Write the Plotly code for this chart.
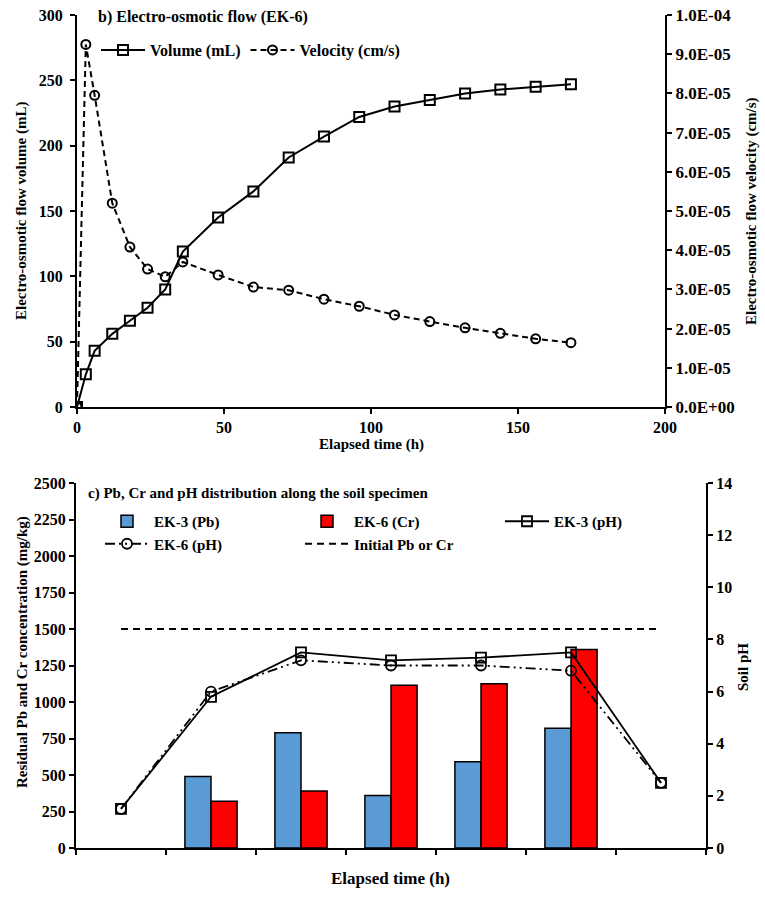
import plotly.graph_objects as go

# ---------------- data: panel b (EK-6 electro-osmotic flow) ----------------
time_h = [0, 3, 6, 12, 18, 24, 30, 36, 48, 60, 72, 84, 96, 108, 120, 132, 144, 156, 168]
volume_ml = [0, 25, 43, 56, 66, 76, 90, 119, 145, 165, 191, 207, 222, 230, 235, 240, 243, 245, 247]
velocity_cms = [0, 9.25e-5, 7.95e-5, 5.2e-5, 4.08e-5, 3.52e-5, 3.32e-5, 3.7e-5, 3.37e-5,
                3.06e-5, 2.98e-5, 2.75e-5, 2.57e-5, 2.35e-5, 2.18e-5, 2.02e-5, 1.88e-5,
                1.74e-5, 1.64e-5]
vel_tickvals = [0, 1e-5, 2e-5, 3e-5, 4e-5, 5e-5, 6e-5, 7e-5, 8e-5, 9e-5, 1e-4]
vel_ticktext = ["0.0E+00", "1.0E-05", "2.0E-05", "3.0E-05", "4.0E-05", "5.0E-05",
                "6.0E-05", "7.0E-05", "8.0E-05", "9.0E-05", "1.0E-04"]

# ---------------- data: panel c (Pb, Cr, pH along specimen) ----------------
sections = [1, 2, 3, 4, 5, 6, 7]
bar_sections = [2, 3, 4, 5, 6]
pb_ek3 = [490, 790, 360, 590, 820]
cr_ek6 = [320, 390, 1115, 1125, 1360]
ph_ek3 = [1.5, 5.8, 7.5, 7.2, 7.3, 7.5, 2.5]
ph_ek6 = [1.5, 6.0, 7.2, 7.0, 7.0, 6.8, 2.5]
initial_conc = [1500, 1500, 1500, 1500, 1500, 1500, 1500]
section_bounds = [0.5, 1.5, 2.5, 3.5, 4.5, 5.5, 6.5, 7.5]

W, H = 765, 903
FONT = "Liberation Serif"


def px(x):
    return x / W


def py(y):
    return 1 - y / H


fig = go.Figure()

# panel b
fig.add_trace(go.Scatter(
    x=time_h, y=volume_ml, name="Volume (mL)", mode="lines+markers",
    line=dict(color="black", width=2),
    marker=dict(symbol="square-open", size=10, color="black", line=dict(width=2)),
    xaxis="x", yaxis="y", legend="legend"))
fig.add_trace(go.Scatter(
    x=time_h, y=velocity_cms, name="Velocity (cm/s)", mode="lines+markers",
    line=dict(color="black", width=2, dash="6px,4px"),
    marker=dict(symbol="circle-open", size=9, color="black", line=dict(width=2)),
    xaxis="x", yaxis="y2", legend="legend"))

# panel c
fig.add_trace(go.Bar(
    x=bar_sections, y=pb_ek3, name="EK-3 (Pb)",
    marker=dict(color="#5B9BD5", line=dict(color="black", width=1.5)),
    xaxis="x2", yaxis="y3", offsetgroup="a", legend="legend2"))
fig.add_trace(go.Bar(
    x=bar_sections, y=cr_ek6, name="EK-6 (Cr)",
    marker=dict(color="#FF0000", line=dict(color="black", width=1.5)),
    xaxis="x2", yaxis="y3", offsetgroup="b", legend="legend2"))
fig.add_trace(go.Scatter(
    x=sections, y=ph_ek3, name="EK-3 (pH)", mode="lines+markers",
    line=dict(color="black", width=1.8),
    marker=dict(symbol="square-open", size=10, color="black", line=dict(width=1.8)),
    xaxis="x2", yaxis="y4", legend="legend2"))
fig.add_trace(go.Scatter(
    x=sections, y=ph_ek6, name="EK-6 (pH)", mode="lines+markers",
    line=dict(color="black", width=1.8, dash="10px,4px,2px,4px,2px,4px"),
    marker=dict(symbol="circle-open", size=10, color="black", line=dict(width=1.8)),
    xaxis="x2", yaxis="y4", legend="legend2"))
fig.add_trace(go.Scatter(
    x=sections, y=initial_conc, name="Initial Pb or Cr", mode="lines",
    line=dict(color="black", width=2, dash="7px,5px"),
    xaxis="x2", yaxis="y3", legend="legend2"))

axis_common = dict(showgrid=False, zeroline=False, showline=True, linecolor="black",
                   linewidth=2, ticks="outside", ticklen=5, tickwidth=2, tickcolor="black",
                   automargin=False)

fig.update_layout(
    width=W, height=H,
    margin=dict(l=0, r=0, t=0, b=0),
    template="none",
    paper_bgcolor="white", plot_bgcolor="rgba(0,0,0,0)",
    font=dict(family=FONT, size=15, color="black", weight="bold"),
    barmode="group", bargap=0.42, bargroupgap=0,
    xaxis=dict(domain=[px(77), px(665)], anchor="y", range=[0, 200], dtick=50,
               tickfont=dict(size=16), **axis_common),
    yaxis=dict(domain=[py(407), py(15)], anchor="x", range=[0, 300], dtick=50,
               tickfont=dict(size=16), ticklabelstandoff=4, **axis_common),
    yaxis2=dict(overlaying="y", anchor="x", side="right", range=[0, 1e-4],
                tickvals=vel_tickvals, ticktext=vel_ticktext,
                tickfont=dict(size=17), **axis_common),
    xaxis2=dict(domain=[px(76), px(706)], anchor="y3", range=[0.5, 7.5],
                tickvals=section_bounds, showticklabels=False, **axis_common),
    yaxis3=dict(domain=[py(848), py(483)], anchor="x2", range=[0, 2500], dtick=250,
                tickfont=dict(size=16), **axis_common),
    yaxis4=dict(overlaying="y3", anchor="x2", side="right", range=[0, 14], dtick=2,
                tickfont=dict(size=16), **axis_common),
    legend=dict(orientation="h", x=px(96), y=py(33), xanchor="left", yanchor="top",
                bgcolor="rgba(0,0,0,0)", font=dict(size=16), itemwidth=44,
                tracegroupgap=0),
    legend2=dict(orientation="h", x=px(100), y=py(505), xanchor="left", yanchor="top",
                 bgcolor="rgba(0,0,0,0)", font=dict(size=15), itemwidth=44,
                 entrywidth=141, traceorder="normal"),
    showlegend=True,
)

annotations = [
    dict(text="b) Electro-osmotic flow (EK-6)", x=px(96), y=py(17), xanchor="left",
         yanchor="middle", font=dict(size=16)),
    dict(text="Electro-osmotic flow volume (mL)", x=px(22), y=py(211), textangle=-90,
         xanchor="center", yanchor="middle", font=dict(size=15)),
    dict(text="Electro-osmotic flow velocity (cm/s)", x=px(752), y=py(211), textangle=-90,
         xanchor="center", yanchor="middle", font=dict(size=15)),
    dict(text="Elapsed time (h)", x=px(371), y=py(444), xanchor="center",
         yanchor="middle", font=dict(size=15)),
    dict(text="c) Pb, Cr and pH distribution along the soil specimen", x=px(86),
         y=py(493), xanchor="left", yanchor="middle", font=dict(size=15)),
    dict(text="Residual Pb and Cr concentration (mg/kg)", x=px(22), y=py(652),
         textangle=-90, xanchor="center", yanchor="middle", font=dict(size=15)),
    dict(text="Soil pH", x=px(743), y=py(667), textangle=-90, xanchor="center",
         yanchor="middle", font=dict(size=15)),
    dict(text="Elapsed time (h)", x=px(391), y=py(878), xanchor="center",
         yanchor="middle", font=dict(size=17)),
]
for a in annotations:
    a.update(xref="paper", yref="paper", showarrow=False)
fig.update_layout(annotations=annotations)

fig.write_html("out.html")
